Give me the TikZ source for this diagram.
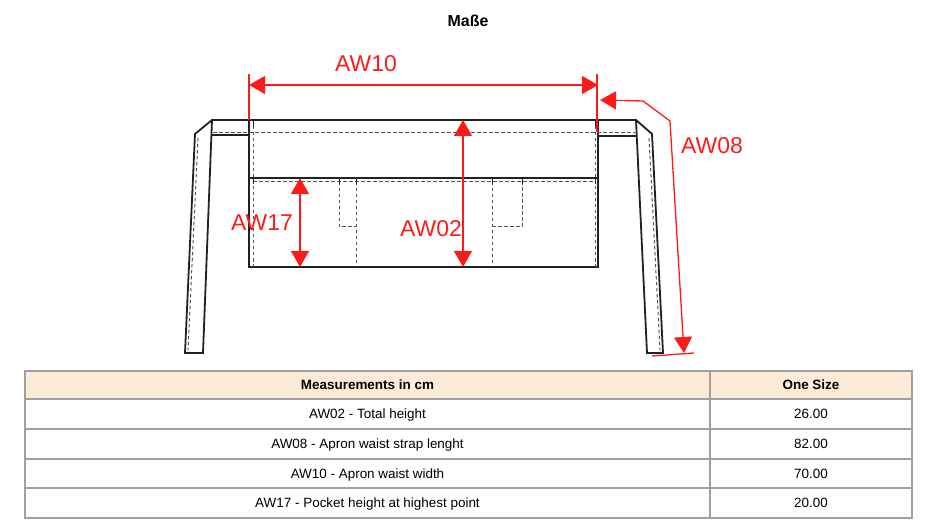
\documentclass[tikz,border=0pt]{standalone}
\usepackage{fontspec}
\setmainfont{Liberation Sans}
\usepackage{xcolor}
\definecolor{lineDark}{HTML}{222222}
\definecolor{stitchGray}{HTML}{555555}
\definecolor{dimRed}{HTML}{FF1A1A}
\definecolor{headBg}{HTML}{FCEBD6}
\definecolor{gridGray}{HTML}{A0A0A0}
\usepackage{tikz}
\usetikzlibrary{arrows.meta,calc}
\tikzset{%
  outline/.style={%
    draw=lineDark,
    line width=1.8bp,
    line join=miter
  },
  stitch/.style={%
    draw=stitchGray,
    line width=1bp,
    dash pattern=on 3.5bp off 2.5bp
  },
  tick/.style={%
    draw=lineDark,
    line width=1bp
  },
  dimLine/.style={%
    draw=dimRed,
    line width=1.3bp
  },
  dimArrow/.style={%
    dimLine,
    {Triangle[length=16bp,width=18bp]}-{Triangle[length=16bp,width=18bp]}
  },
  dimLabel/.style={%
    text=dimRed,
    font=\fontsize{23}{23}\selectfont,
    inner sep=0pt,
    anchor=base
  },
  gridLine/.style={%
    draw=gridGray,
    line width=1.1bp
  },
  cellText/.style={%
    font=\fontsize{13.5}{13.5}\selectfont,
    inner sep=0pt,
    anchor=base
  }
}

\begin{document}
\begin{tikzpicture}[x=1bp,y=-1bp]
            \useasboundingbox (0,0) rectangle (933,532);
            \node[font=\bfseries\fontsize{16}{16}\selectfont] (title) at (468,21) {Maße};

            \coordinate (topL) at (249,120);
            \coordinate (topR) at (598,120);
            \coordinate (botL) at (249,267);
            \coordinate (botR) at (598,267);
            \coordinate (bandL) at (249,178);
            \coordinate (bandR) at (598,178);

            \draw[outline] (topL) -- (212,120) -- (195,134) -- (185,353) -- (203,353) -- (212,120);
            \draw[outline] (211.4,135) -- (249,135);
            \draw[outline] (topR) -- (636,120) -- (652,134) -- (663,353) -- (647,353) -- (636,120);
            \draw[outline] (598,136) -- (636.7,136);
            \draw[outline] (topL) rectangle (botR);
            \draw[outline] (bandL) -- (bandR);

            \draw[stitch] (198,138) -- (188,350);
            \draw[stitch] (649,138) -- (660,350);
            \draw[stitch] (213,133) -- (635,133);
            \draw[stitch] (253,182) -- (595,182);
            \draw[stitch] (253,126) -- (253,267);
            \draw[stitch] (595,126) -- (595,267);
            \draw[stitch] (339,182) -- (339,227) -- (356,227);
            \draw[stitch] (356,182) -- (356,267);
            \draw[stitch] (492,182) -- (492,267);
            \draw[stitch] (492,227) -- (522,227) -- (522,182);
            \foreach \tx in {253,339,356,492,522,595}
              \draw[tick] (\tx,178) -- (\tx,184);
            \foreach \tx in {253,595}
              \draw[tick] (\tx,120) -- (\tx,127);

            \coordinate (aw10L) at (249,85);
            \coordinate (aw10R) at (598,85);
            \draw[dimLine] (249,74) -- (topL);
            \draw[dimLine] (597,74) -- (597,132);
            \draw[dimArrow] (aw10L) -- (aw10R);
            \node[dimLabel] (lblAW10) at (366,72) {AW10};

            \draw[dimArrow] (463,120) -- (463,267);
            \node[dimLabel] (lblAW02) at (431,237) {AW02};

            \draw[dimArrow] (300,178) -- (300,267);
            \node[dimLabel] (lblAW17) at (262,231) {AW17};

            \coordinate (strapTop) at (600,100);
            \coordinate (strapEnd) at (684,353);
            \draw[dimArrow] (strapTop) -- (643,101) -- (670,121) -- (strapEnd);
            \draw[dimLine] (652,356) -- (694,353);
            \node[dimLabel] (lblAW08) at (712,154) {AW08};

            \fill[headBg] (25,371) rectangle (912,399);
            \draw[gridLine] (25,371) rectangle (912,518);
            \foreach \ry in {399,429,459,488}
              \draw[gridLine] (25,\ry) -- (912,\ry);
            \draw[gridLine] (710,371) -- (710,518);
            \node[cellText, font=\bfseries\fontsize{13.5}{13.5}\selectfont] (headMeas) at (367.5,389.8) {Measurements in cm};
            \node[cellText, font=\bfseries\fontsize{13.5}{13.5}\selectfont] (headSize) at (811,389.8) {One Size};
            \foreach \lbl/\val [count=\i] in {AW02 - Total height/26.00, AW08 - Apron waist strap lenght/82.00, AW10 - Apron waist width/70.00, AW17 - Pocket height at highest point/20.00}{
              \node[cellText] (row\i) at (367.5,{399+(\i-0.5)*29.75+4.8}) {\lbl};
              \node[cellText] (val\i) at (811,{399+(\i-0.5)*29.75+4.8}) {\val};
            }
        \end{tikzpicture}
\end{document}
